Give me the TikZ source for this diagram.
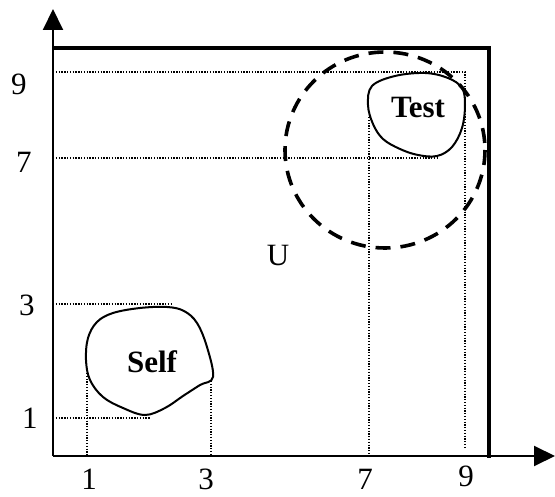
\documentclass[tikz,border=0pt]{standalone}
\usepackage{fontspec}
\setmainfont{Liberation Serif}
\usepackage{tikz}
\usetikzlibrary{arrows.meta,positioning}
\tikzset{
  eje/.style={
    line width=2pt,
    -{Triangle[length=21pt,width=20pt]}
  },
  borde/.style={
    line width=4.2pt,
    line join=miter
  },
  guia/.style={
    line width=1.5pt,
    dash pattern=on 1.3pt off 1.5pt
  },
  region/.style={
    line width=2pt,
    smooth cycle,
    tension=0.6
  },
  detector/.style={
    line width=3.6pt,
    dash pattern=on 15pt off 10pt
  },
  etiqueta/.style={
    inner sep=0pt,
    font=\fontsize{31}{36}\selectfont
  },
  nombre/.style={
    inner sep=0pt,
    font=\fontsize{31}{36}\selectfont\bfseries
  }
}
\begin{document}
\begin{tikzpicture}[x=1pt,y=-1pt]
\useasboundingbox (0,0) rectangle (555,497);
% ejes
\coordinate (o) at (53,456);
\coordinate (ytip) at (53,9);
\coordinate (xtip) at (555,456);
\draw[eje] (o) -- (ytip);
\draw[eje] (o) -- (xtip);
% universo
\draw[borde] (53,48) -- (489,48) -- (489,458);
% lineas guia
\draw[guia] (53,72) -- (465,72) -- (465,448);
\draw[guia] (53,158) -- (437,158);
\draw[guia] (369,117) -- (369,456);
\draw[guia] (53,304) -- (172,304);
\draw[guia] (53,418) -- (150,418);
\draw[guia] (87,373) -- (87,456);
\draw[guia] (211,381) -- (211,456);
% detector
\draw[detector] (385,150) ellipse [x radius=100, y radius=98];
% regiones
\draw[region] plot coordinates {(368,105) (372,86) (395,76) (425,73) (448,78)
  (462,88) (465,105) (462,128) (452,147) (437,156) (418,155) (400,149)
  (383,139) (373,124)};
\draw[region] plot coordinates {(88,338) (97,322) (113,313) (140,308) (167,307)
  (184,311) (197,323) (207,347) (213,377) (200,385) (183,396) (165,408)
  (145,415) (123,408) (103,397) (90,380) (86,360)};
% textos
\node[nombre] (test) at (418,108) {Test};
\node[nombre] (self) at (152,362) {Self};
\node[etiqueta] (u) at (278,256) {U};
\node[etiqueta] (y9) at (19,84) {9};
\node[etiqueta] (y7) at (24,162) {7};
\node[etiqueta] (y3) at (27,305) {3};
\node[etiqueta] (y1) at (30,418) {1};
\node[etiqueta] (x1) at (89,479) {1};
\node[etiqueta] (x3) at (206,479) {3};
\node[etiqueta] (x7) at (365,479) {7};
\node[etiqueta] (x9) at (466,476) {9};
\end{tikzpicture}
\end{document}
